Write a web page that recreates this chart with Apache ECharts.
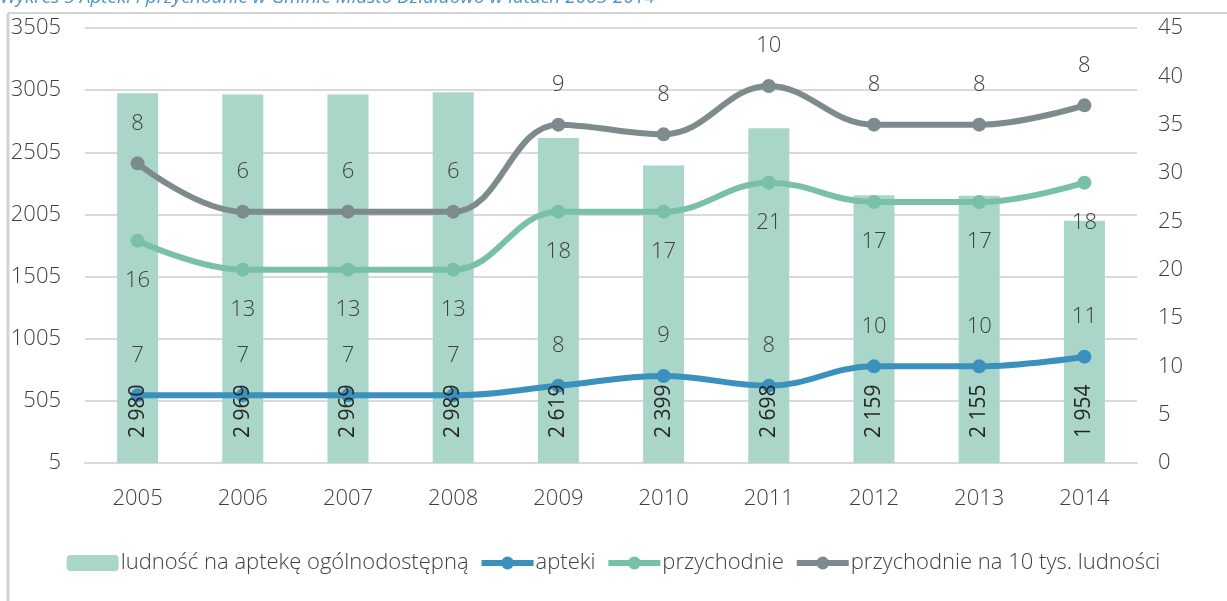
<!DOCTYPE html>
<html>
<head>
<meta charset="utf-8">
<script src="https://cdn.jsdelivr.net/npm/echarts@6/dist/echarts.min.js"></script>
<style>
  html, body { margin: 0; padding: 0; background: #fff; }
  #chart { width: 1227px; height: 601px; }
</style>
</head>
<body>
<div id="chart"></div>
<script>
// dane
var years = ['2005', '2006', '2007', '2008', '2009', '2010', '2011', '2012', '2013', '2014'];
var ludnosc = [2980, 2969, 2969, 2989, 2619, 2399, 2698, 2159, 2155, 1954];
var apteki = [7, 7, 7, 7, 8, 9, 8, 10, 10, 11];
var przychodnie = [16, 13, 13, 13, 18, 17, 21, 17, 17, 18];
var przychodnie10 = [8, 6, 6, 6, 9, 8, 10, 8, 8, 8];

var FONT = '"Open Sans", sans-serif';
var TXT = '#404040';

var myChart = echarts.init(document.getElementById('chart'));

function spacja(v) {
    // 2980 -> "2 980"
    var s = String(v);
    return s.length > 3 ? s.slice(0, s.length - 3) + ' ' + s.slice(-3) : s;
}

var lineLabel = function (pos) {
    return { show: true, position: pos, distance: 22, fontSize: 22, fontWeight: 300, color: TXT };
};

var option = {
    backgroundColor: '#fff',
    animation: false,
    textStyle: { fontFamily: FONT },
    title: {
        text: 'Wykres 5 Apteki i przychodnie w Gminie Miasto Działdowo w latach 2005-2014',
        left: 0,
        top: -12,
        padding: 0,
        textStyle: { fontFamily: FONT, fontStyle: 'italic', fontWeight: 'normal', fontSize: 19, color: '#4f94c8' }
    },
    graphic: [
        { type: 'line', shape: { x1: 8, y1: 13, x2: 1227, y2: 13 }, style: { stroke: '#d4d4d4', lineWidth: 2 } },
        { type: 'line', shape: { x1: 8, y1: 13, x2: 8, y2: 601 }, style: { stroke: '#d4d4d4', lineWidth: 3 } }
    ],
    grid: { left: 85, right: 90, top: 28, bottom: 138 },
    legend: {
        bottom: 22,
        left: 'center',
        itemWidth: 52,
        itemHeight: 16,
        itemGap: 10,
        textStyle: { fontFamily: FONT, fontSize: 22, fontWeight: 300, color: TXT, padding: [0, 0, 0, -3] },
        data: [
            { name: 'ludność na aptekę ogólnodostępną' },
            { name: 'apteki', lineStyle: { width: 6 } },
            { name: 'przychodnie', lineStyle: { width: 6 } },
            { name: 'przychodnie na 10 tys. ludności', lineStyle: { width: 6 } }
        ]
    },
    xAxis: {
        type: 'category',
        data: years,
        axisLine: { lineStyle: { color: '#d9d9d9', width: 2 } },
        axisTick: { show: false },
        axisLabel: { fontSize: 22, fontWeight: 300, color: TXT, margin: 25 }
    },
    yAxis: [
        {
            type: 'value',
            min: 5,
            max: 3505,
            interval: 500,
            axisLine: { show: false },
            axisTick: { show: false },
            axisLabel: { fontSize: 22, fontWeight: 300, color: TXT, margin: 24, formatter: function (v) { return String(v); } },
            splitLine: { lineStyle: { color: '#d9d9d9', width: 2 } }
        },
        {
            type: 'value',
            min: 0,
            max: 45,
            interval: 5,
            axisLine: { show: false },
            axisTick: { show: false },
            axisLabel: { fontSize: 22, fontWeight: 300, color: TXT, margin: 21 },
            splitLine: { show: false }
        }
    ],
    series: [
        {
            name: 'ludność na aptekę ogólnodostępną',
            type: 'bar',
            data: ludnosc,
            barWidth: 41,
            itemStyle: { color: '#a9d6c9' },
            z: 1
        },
        {
            name: 'apteki',
            type: 'line',
            yAxisIndex: 1,
            stack: 'linie',
            smooth: 0.4,
            data: apteki,
            symbol: 'circle',
            symbolSize: 14,
            lineStyle: { width: 6, color: '#3a91bd' },
            itemStyle: { color: '#3a91bd' },
            label: lineLabel('top')
        },
        {
            name: 'przychodnie',
            type: 'line',
            yAxisIndex: 1,
            stack: 'linie',
            smooth: 0.4,
            data: przychodnie,
            symbol: 'circle',
            symbolSize: 14,
            lineStyle: { width: 6, color: '#78c1a6' },
            itemStyle: { color: '#78c1a6' },
            label: lineLabel('bottom')
        },
        {
            name: 'przychodnie na 10 tys. ludności',
            type: 'line',
            yAxisIndex: 1,
            stack: 'linie',
            smooth: 0.4,
            data: przychodnie10,
            symbol: 'circle',
            symbolSize: 14,
            lineStyle: { width: 6, color: '#7d8b8c' },
            itemStyle: { color: '#7d8b8c' },
            label: lineLabel('top')
        },
        {
            // same bars again, transparent, so their labels sit above the lines
            name: 'etykiety',
            type: 'bar',
            data: ludnosc,
            barWidth: 41,
            barGap: '-100%',
            itemStyle: { color: 'rgba(0,0,0,0)' },
            z: 10,
            silent: true,
            label: {
                show: true,
                position: 'insideBottom',
                rotate: 90,
                align: 'left',
                verticalAlign: 'middle',
                distance: 25,
                fontSize: 21,
                color: '#262626',
                formatter: function (p) { return spacja(p.value); }
            }
        }
    ]
};

myChart.setOption(option);
</script>
</body>
</html>
